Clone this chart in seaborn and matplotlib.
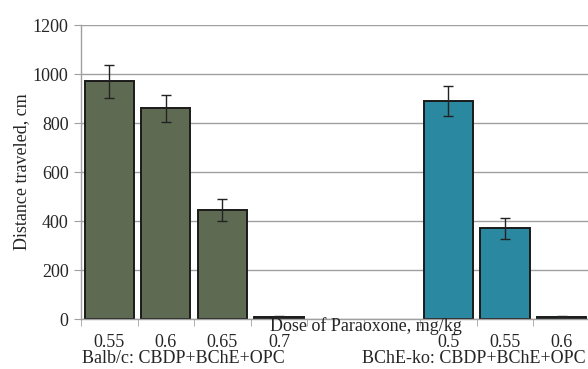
import matplotlib
matplotlib.use("Agg")
import matplotlib.pyplot as plt
import seaborn as sns
import pandas as pd

# slot keys (two empty slots between the groups)
slots = ["b055", "b06", "b065", "b07", "gap1", "gap2", "k05", "k055", "k06"]
tick_labels = ["0.55", "0.6", "0.65", "0.7", "", "", "0.5", "0.55", "0.6"]

balb_keys = ["b055", "b06", "b065", "b07"]
balb_dist = [970, 860, 445, 10]
balb_err = [68, 55, 45, 3]

ko_keys = ["k05", "k055", "k06"]
ko_dist = [890, 370, 10]
ko_err = [63, 43, 3]

group_labels = ["Balb/c: CBDP+BChE+OPC", "BChE-ko: CBDP+BChE+OPC"]

df = pd.DataFrame({
    "slot": balb_keys + ko_keys,
    "dist": balb_dist + ko_dist,
    "err": balb_err + ko_err,
    "group": ["balb"] * len(balb_keys) + ["ko"] * len(ko_keys),
})

sns.set_style("white")
plt.rcParams["font.family"] = ["Liberation Serif", "DejaVu Serif"]

fig = plt.figure(figsize=(5.88, 3.69), dpi=100)
ax = fig.add_axes([0.138, 0.1355, 0.865, 0.7965])

colors = {"balb": "#5f6a53", "ko": "#2a89a0"}
sns.barplot(data=df, x="slot", y="dist", hue="group", order=slots,
            palette=colors, saturation=1, dodge=False, width=0.87,
            edgecolor="#1a1a1a", linewidth=1.4, legend=False, errorbar=None, ax=ax)

# error bars on top of the bars
pos = {s: i for i, s in enumerate(slots)}
ax.errorbar([pos[s] for s in df["slot"]], df["dist"], yerr=df["err"],
            fmt="none", ecolor="#222222", elinewidth=1.0, capsize=3.5, capthick=1.0)

ax.set_ylim(0, 1200)
ax.set_yticks(range(0, 1201, 200))
ax.set_xlim(-0.5, len(slots) - 0.5)
ax.grid(axis="y", color="#a0a0a0", linewidth=1.0)
ax.set_axisbelow(True)

for s in ["top", "right"]:
    ax.spines[s].set_visible(False)
for s in ["left", "bottom"]:
    ax.spines[s].set_color("#a0a0a0")
    ax.spines[s].set_linewidth(1.0)

ax.set_xticks(range(len(slots)))
ax.set_xticklabels(tick_labels)
ax.set_xticks([i + 0.5 for i in range(-1, len(slots))], minor=True)
ax.tick_params(axis="x", which="major", length=0, pad=11, labelsize=13)
ax.tick_params(axis="x", which="minor", length=5, color="#a0a0a0", direction="out", bottom=True)
ax.tick_params(axis="y", length=5, color="#a0a0a0", direction="out", labelsize=13, pad=4, left=True)

ax.set_xlabel("")
ax.set_ylabel("Distance traveled, cm", fontsize=13, labelpad=2)

fig.text(0.622, 0.117, "Dose of Paraoxone, mg/kg", ha="center", va="center", fontsize=13)
fig.text(0.312, 0.028, group_labels[0], ha="center", va="center", fontsize=13)
fig.text(0.996, 0.028, group_labels[1], ha="right", va="center", fontsize=13)

fig.savefig("out.png", dpi=100)
